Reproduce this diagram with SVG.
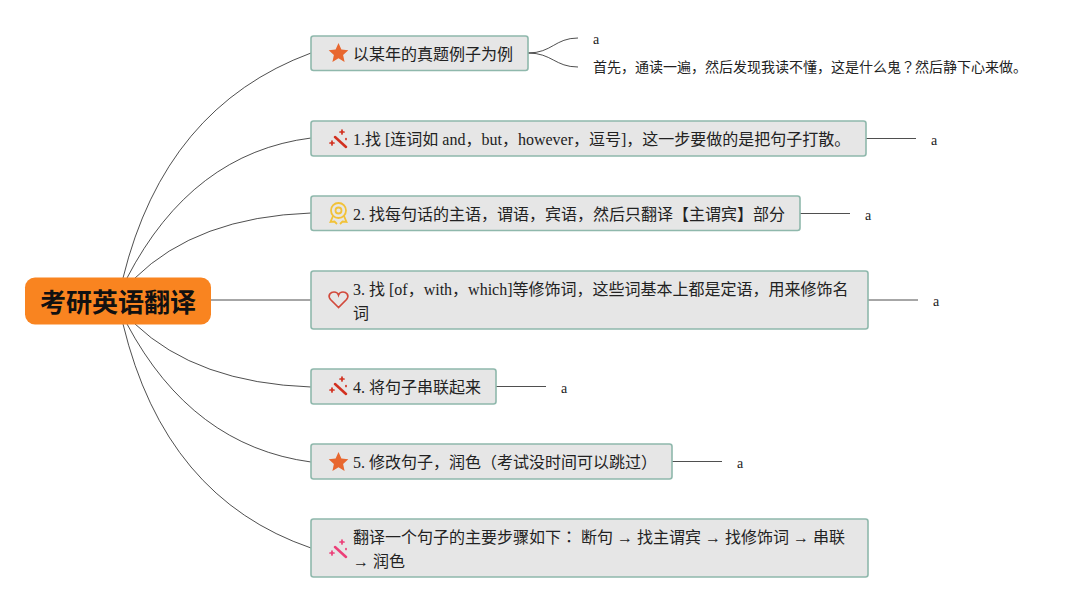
<svg xmlns="http://www.w3.org/2000/svg" width="1087" height="602" viewBox="0 0 1087 602">
<style>
text{font-family:"Liberation Serif","Noto Sans CJK SC",serif;fill:#222}
.n{fill:#e6e6e6;stroke:#8fb8ac;stroke-width:1.6}
.t{font-size:16px}
.s{font-size:14px}
.c{fill:none;stroke:#222;stroke-width:.8}
</style>
<defs>
<path id="star" d="M0-10 2.900-3.400 9.800-2.700 4.600 2 6.100 9 0 5.300-6.100 9-4.600 2-9.800-2.700-2.900-3.400Z" fill="#e8672f"/>
<g id="wand" fill="none" stroke-width="1.700" stroke-linecap="round"><path d="M-4-3 7 7" stroke-width="2.500"/><path d="M3-10V-6M1-8H5M-7 1V5M-9 3H-5M7-1.500V-.5"/></g>
</defs>
<g id="connectors">
<path class="c" d="M123 278Q165 107 311 53"/>
<path class="c" d="M127 278Q192 153 311 138"/>
<path class="c" d="M135 278Q197 217 311 213"/>
<path class="c" d="M211 300H311"/>
<path class="c" d="M135 324Q197 383 311 387"/>
<path class="c" d="M127 324Q192 446 311 462"/>
<path class="c" d="M123 324Q165 498 311 548"/>
<path class="c" d="M528 53C552 53 555 38 578 38"/>
<path class="c" d="M528 53C552 53 555 67 578 67"/>
<path class="c" d="M866 138.500H916"/>
<path class="c" d="M800 213.500H850"/>
<path class="c" d="M868 300H918"/>
<path class="c" d="M496 386.500H546"/>
<path class="c" d="M672 461.500H722"/>
</g>
<g id="root"><rect x="25" y="277.500" width="186" height="47" rx="10" fill="#f98420"/><text x="118" y="312" text-anchor="middle" font-size="26px" font-weight="700" style="fill:#111;font-family:'Liberation Sans','Noto Sans CJK SC',sans-serif">考研英语翻译</text></g>
<g id="n0"><rect class="n" x="311" y="36" width="217" height="34.500" rx="2.500"/><use href="#star" x="338.500" y="53"/><text class="t" x="353" y="59.500">以某年的真题例子为例</text></g>
<g id="n1"><rect class="n" x="311" y="121" width="555" height="35" rx="2.500"/><use href="#wand" x="339" y="140" stroke="#d2301f"/><text class="t" x="353" y="144.500">1.找 [连词如 and，but，however，逗号]，这一步要做的是把句子打散。</text></g>
<g id="n2"><rect class="n" x="311" y="196" width="489" height="34.500" rx="2.500"/><g fill="none" stroke="#f2c238" stroke-width="1.800"><circle cx="338.500" cy="210.500" r="7.500"/><circle cx="338.500" cy="210.500" r="3"/><path d="M333 216 330.500 222 334.500 221.500 337 224M344 216 346.500 222 342.500 221.500 340 224"/></g><text class="t" x="353" y="219.500">2. 找每句话的主语，谓语，宾语，然后只翻译【主谓宾】部分</text></g>
<g id="n3"><rect class="n" x="311" y="271" width="557" height="58" rx="2.500"/><path d="M338.500 307.500 330.500 299.500C327 295 331 292 334 292 336 292 338 293.500 338.500 295 339 293.500 341 292 343 292 346 292 350 295 346.500 299.500Z" fill="none" stroke="#d24a3c" stroke-width="1.700"/><text class="t" x="353" y="295">3. 找 [of，with，which]等修饰词，这些词基本上都是定语，用来修饰名</text><text class="t" x="353" y="319">词</text></g>
<g id="n4"><rect class="n" x="311" y="369" width="185" height="35" rx="2.500"/><use href="#wand" x="339" y="387" stroke="#d2301f"/><text class="t" x="353" y="392.500">4. 将句子串联起来</text></g>
<g id="n5"><rect class="n" x="311" y="444" width="361" height="35" rx="2.500"/><use href="#star" x="338.500" y="462"/><text class="t" x="353" y="467.500">5. 修改句子，润色（考试没时间可以跳过）</text></g>
<g id="n6"><rect class="n" x="311" y="519" width="557" height="58" rx="2.500"/><use href="#wand" x="339" y="550" stroke="#ec3f78"/><text class="t" x="353" y="542.500">翻译一个句子的主要步骤如下<tspan style="font-family:'Noto Sans CJK JP',sans-serif">：</tspan> 断句 → 找主谓宾 → 找修饰词 → 串联</text><text class="t" x="353" y="566.500">→ 润色</text></g>
<g id="leaves">
<text class="s" x="593" y="44">a</text>
<text class="s" x="593" y="72">首先，通读一遍，然后发现我读不懂，这是什么鬼<tspan style="font-family:'Noto Sans CJK JP',sans-serif">？</tspan>然后静下心来做。</text>
<text class="s" x="931" y="145">a</text>
<text class="s" x="865" y="220">a</text>
<text class="s" x="933" y="306">a</text>
<text class="s" x="561" y="393">a</text>
<text class="s" x="737" y="468">a</text>
</g>
</svg>
